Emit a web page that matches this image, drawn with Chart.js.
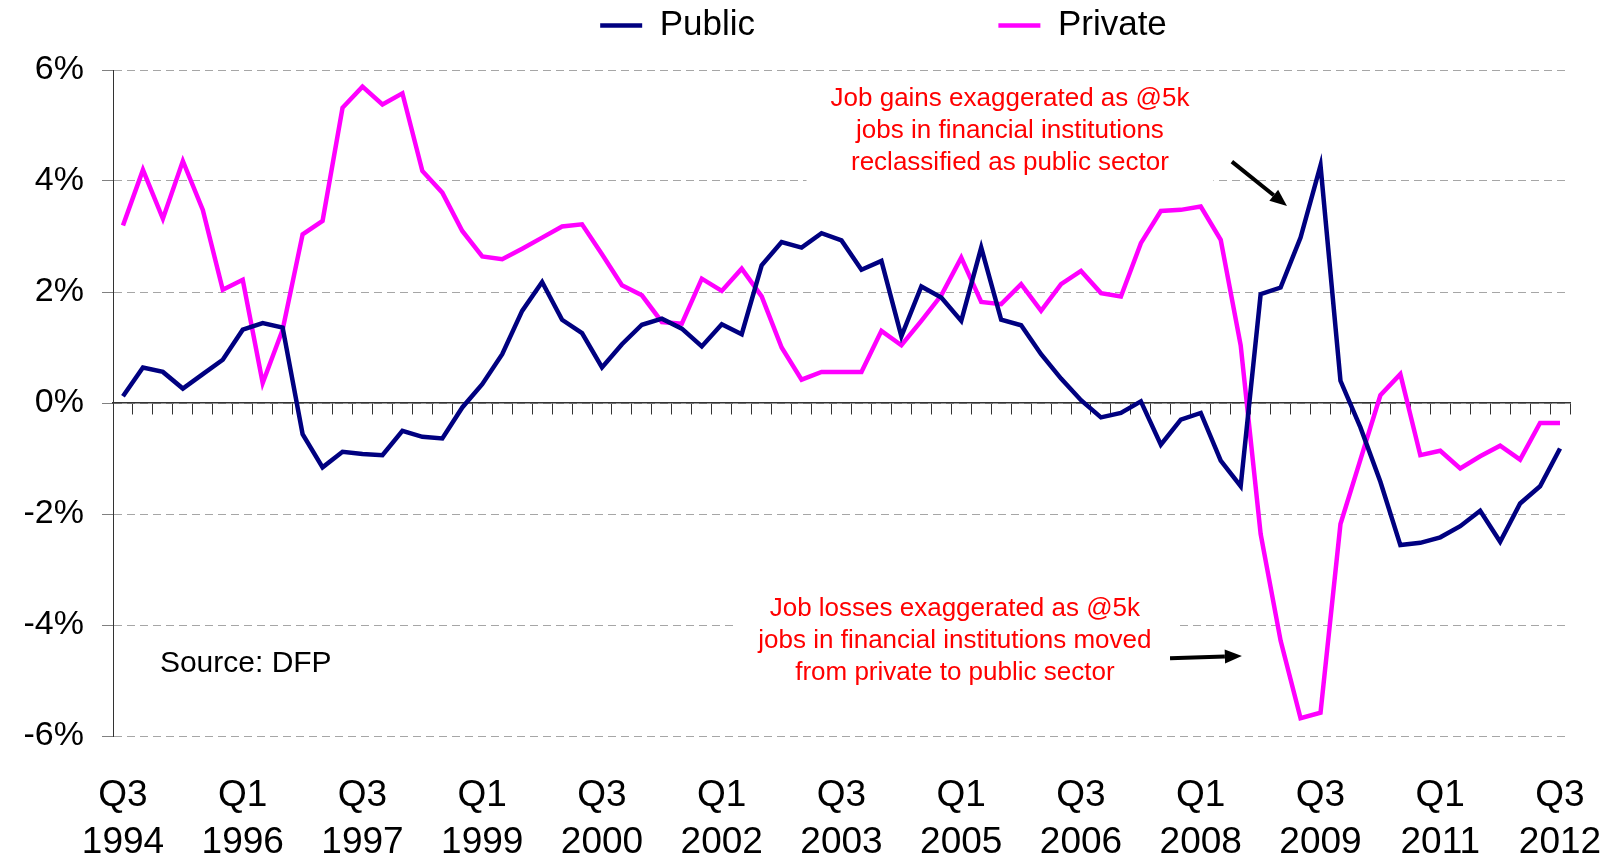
<!DOCTYPE html>
<html>
<head>
<meta charset="utf-8">
<title>Public and private sector employment growth</title>
<script src="https://cdn.jsdelivr.net/npm/chart.js@4.4.1/dist/chart.umd.min.js"></script>
<style>
    html, body { margin: 0; padding: 0; background: #fff; }
    #wrap { width: 1619px; height: 858px; }
</style>
</head>
<body>
<div id="wrap"><canvas id="jobsChart"></canvas></div>
<script>
// Quarters Q3 1994 .. Q3 2012
const categories = [];
for (let year = 1994; year <= 2012; year++) {
    for (let q = 1; q <= 4; q++) {
        if ((year === 1994 && q < 3) || (year === 2012 && q > 3)) continue;
        categories.push('Q' + q + ' ' + year);
    }
}

// Annual % change in employee jobs
const publicSector = [
    0.12, 0.64, 0.56, 0.26, 0.52, 0.78, 1.32, 1.44,
    1.36, -0.56, -1.16, -0.88, -0.92, -0.94, -0.50, -0.61,
    -0.64, -0.08, 0.34, 0.88, 1.66, 2.18, 1.50, 1.26,
    0.64, 1.06, 1.41, 1.52, 1.34, 1.02, 1.42, 1.24,
    2.48, 2.90, 2.80, 3.06, 2.93, 2.40, 2.56, 1.20,
    2.10, 1.90, 1.48, 2.80, 1.50, 1.40, 0.88, 0.44,
    0.05, -0.26, -0.18, 0.03, -0.75, -0.30, -0.18, -1.04,
    -1.50, 1.96, 2.08, 2.98, 4.28, 0.40, -0.44, -1.42,
    -2.56, -2.52, -2.42, -2.22, -1.94, -2.50, -1.81, -1.50,
    -0.82
];
const privateSector = [
    3.20, 4.20, 3.32, 4.36, 3.48, 2.04, 2.22, 0.36,
    1.32, 3.04, 3.28, 5.32, 5.70, 5.38, 5.58, 4.18,
    3.79, 3.10, 2.64, 2.59, 2.78, 2.98, 3.18, 3.22,
    2.68, 2.12, 1.94, 1.46, 1.43, 2.24, 2.02, 2.42,
    1.92, 1.00, 0.42, 0.56, 0.56, 0.56, 1.30, 1.04,
    1.48, 1.94, 2.62, 1.82, 1.78, 2.14, 1.66, 2.14,
    2.38, 1.98, 1.92, 2.88, 3.46, 3.48, 3.54, 2.94,
    1.04, -2.36, -4.28, -5.68, -5.58, -2.18, -1.02, 0.14,
    0.52, -0.94, -0.86, -1.18, -0.96, -0.77, -1.02, -0.36,
    -0.36
];

// x tick labels, one every 6 quarters
const tickEvery = 6;
const xTickLabels = [
    ['Q3', '1994'], ['Q1', '1996'], ['Q3', '1997'], ['Q1', '1999'], ['Q3', '2000'],
    ['Q1', '2002'], ['Q3', '2003'], ['Q1', '2005'], ['Q3', '2006'], ['Q1', '2008'],
    ['Q3', '2009'], ['Q1', '2011'], ['Q3', '2012']
];
const yMin = -6, yMax = 6, yStep = 2;

// Notes: x in quarter index, y in %
const notes = [
    { x: 44.44, y: 4.90, lines: ['Job gains exaggerated as @5k', 'jobs in financial institutions', 'reclassified as public sector'] },
    { x: 41.68, y: -4.29, lines: ['Job losses exaggerated as @5k', 'jobs in financial institutions moved', 'from private to public sector'] }
];
const arrows = [
    { from: [55.56, 4.35], to: [58.32, 3.55] },
    { from: [52.46, -4.60], to: [56.06, -4.56] }
];
const source = { x: 1.85, y: -4.70, text: 'Source: DFP' };

const FONT = '"Liberation Sans", Arial, Helvetica, sans-serif';
Chart.defaults.font.family = FONT;
Chart.defaults.color = '#000';

const noteLineHeight = 32;

const notesPlugin = {
    id: 'notes',
    beforeDatasetsDraw(chart) {
        const { ctx, scales: { x, y } } = chart;
        ctx.save();
        ctx.font = '26px ' + FONT;
        notes.forEach(n => {
            const cx = x.getPixelForValue(n.x);
            const cy = y.getPixelForValue(n.y);
            const w = Math.max(...n.lines.map(t => ctx.measureText(t).width)) + 48;
            const h = n.lines.length * noteLineHeight + 12;
            ctx.fillStyle = '#fff';
            ctx.fillRect(cx - w / 2, cy - h / 2, w, h);
        });
        ctx.restore();
    },
    afterDatasetsDraw(chart) {
        const { ctx, scales: { x, y } } = chart;
        ctx.save();
        // red notes
        ctx.font = '26px ' + FONT;
        ctx.fillStyle = '#ff0000';
        ctx.textAlign = 'center';
        ctx.textBaseline = 'middle';
        notes.forEach(n => {
            const cx = x.getPixelForValue(n.x);
            const cy = y.getPixelForValue(n.y);
            const mid = (n.lines.length - 1) / 2;
            n.lines.forEach((t, i) => ctx.fillText(t, cx, cy + (i - mid) * noteLineHeight));
        });

        // arrows
        ctx.strokeStyle = '#000';
        ctx.fillStyle = '#000';
        ctx.lineWidth = 4;
        arrows.forEach(a => {
            const x1 = x.getPixelForValue(a.from[0]), y1 = y.getPixelForValue(a.from[1]);
            const x2 = x.getPixelForValue(a.to[0]), y2 = y.getPixelForValue(a.to[1]);
            const ang = Math.atan2(y2 - y1, x2 - x1);
            const head = 17, half = 7;
            const bx = x2 - Math.cos(ang) * head, by = y2 - Math.sin(ang) * head;
            ctx.beginPath();
            ctx.moveTo(x1, y1);
            ctx.lineTo(bx, by);
            ctx.stroke();
            ctx.beginPath();
            ctx.moveTo(x2, y2);
            ctx.lineTo(bx + Math.sin(ang) * half, by - Math.cos(ang) * half);
            ctx.lineTo(bx - Math.sin(ang) * half, by + Math.cos(ang) * half);
            ctx.closePath();
            ctx.fill();
        });

        // source
        ctx.font = '30px ' + FONT;
        ctx.fillStyle = '#000';
        ctx.textAlign = 'left';
        ctx.fillText(source.text, x.getPixelForValue(source.x), y.getPixelForValue(source.y));
        ctx.restore();
    }
};

// Legend sits higher and a bit right of the plot centre in the original
const legendShift = { x: 42, y: -17 };
const legendNudge = {
    id: 'legendNudge',
    afterLayout(chart) {
        const lg = chart.legend;
        lg.left += legendShift.x;
        lg.right += legendShift.x;
        lg.top += legendShift.y;
        lg.bottom += legendShift.y;
    }
};

const ctx = document.getElementById('jobsChart').getContext('2d');
new Chart(ctx, {
    type: 'line',
    data: {
        labels: categories,
        datasets: [{
            label: 'Public',
            data: publicSector,
            borderColor: '#000080',
            backgroundColor: '#000080',
            borderWidth: 4.5,
            pointRadius: 0,
            tension: 0,
            xAxisID: 'x',
            yAxisID: 'y'
        }, {
            label: 'Private',
            data: privateSector,
            borderColor: '#ff00ff',
            backgroundColor: '#ff00ff',
            borderWidth: 4.5,
            pointRadius: 0,
            tension: 0,
            xAxisID: 'x',
            yAxisID: 'y'
        }]
    },
    options: {
        responsive: true,
        maintainAspectRatio: false,
        animation: false,
        events: [],
        layout: {
            padding: { top: 15, right: 49, bottom: 0, left: 0 }
        },
        plugins: {
            tooltip: { enabled: false },
            legend: {
                position: 'top',
                fullSize: false,
                labels: {
                    usePointStyle: true,
                    pointStyle: 'line',
                    pointStyleWidth: 42,
                    padding: 10,
                    color: '#000',
                    font: { size: 35 },
                    generateLabels(chart) {
                        const items = Chart.defaults.plugins.legend.labels.generateLabels(chart);
                        // wide gap between the two entries
                        items[0].text += ' '.repeat(24);
                        return items;
                    }
                }
            }
        },
        scales: {
            x: {
                type: 'category',
                position: 'bottom',
                offset: true,
                grid: { display: false, drawTicks: false },
                border: { display: false },
                ticks: {
                    autoSkip: false,
                    maxRotation: 0,
                    minRotation: 0,
                    padding: 36,
                    color: '#000',
                    font: { size: 37, lineHeight: 1.28 },
                    callback: (value, index) => index % tickEvery === 0 ? xTickLabels[index / tickEvery] : ''
                },
                afterFit(scale) {
                    scale.height = 122;
                    scale.paddingLeft = 0;
                    scale.paddingRight = 0;
                }
            },
            // category axis drawn across the 0% line, tick marks only
            x0: {
                type: 'category',
                position: { y: 0 },
                offset: true,
                grid: {
                    offset: true,
                    drawOnChartArea: false,
                    drawTicks: true,
                    tickLength: 11,
                    tickColor: '#333',
                    tickWidth: 1
                },
                border: { display: true, color: '#333', width: 1.5 },
                ticks: { display: false },
                afterFit(scale) {
                    scale.height = 0;
                    scale.paddingLeft = 0;
                    scale.paddingRight = 0;
                }
            },
            y: {
                min: yMin,
                max: yMax,
                position: 'left',
                grid: {
                    color: '#a6a6a6',
                    tickColor: '#808080',
                    tickLength: 11,
                    tickBorderDash: []
                },
                border: { display: true, color: '#333', width: 1, dash: [8, 5] },
                ticks: {
                    stepSize: yStep,
                    padding: 18,
                    color: '#000',
                    font: { size: 34 },
                    callback: v => v + '%'
                },
                afterFit(scale) {
                    scale.width = 113;
                }
            }
        }
    },
    plugins: [notesPlugin, legendNudge]
});
</script>
</body>
</html>
